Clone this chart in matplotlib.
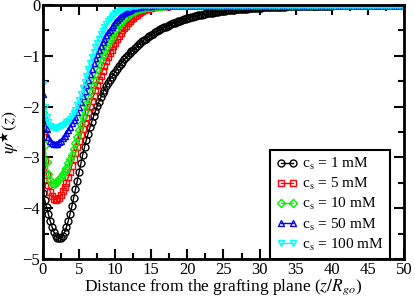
import numpy as np
import matplotlib
matplotlib.use("Agg")
import matplotlib.pyplot as plt
from matplotlib.ticker import MultipleLocator

plt.rcParams['font.family'] = ['Liberation Serif', 'DejaVu Serif']
plt.rcParams['mathtext.fontset'] = 'stix'

# sampling step of the profiles along z / R_go
z_step = 0.25

labels = ["c$_\\mathrm{s}$ = 1 mM", "c$_\\mathrm{s}$ = 5 mM", "c$_\\mathrm{s}$ = 10 mM",
          "c$_\\mathrm{s}$ = 50 mM", "c$_\\mathrm{s}$ = 100 mM"]

psi_1mM = [
    -3.70, -3.84, -3.98, -4.12, -4.25, -4.37, -4.47, -4.54, -4.58, -4.59,
    -4.58, -4.54, -4.47, -4.37, -4.25, -4.11, -3.96, -3.80, -3.63, -3.46,
    -3.29, -3.12, -2.95, -2.80, -2.66, -2.53, -2.41, -2.30, -2.19, -2.09,
    -1.99, -1.90, -1.82, -1.74, -1.67, -1.60, -1.54, -1.48, -1.42, -1.36,
    -1.31, -1.26, -1.21, -1.16, -1.12, -1.07, -1.03, -0.99, -0.95, -0.912,
    -0.876, -0.841, -0.808, -0.776, -0.745, -0.716, -0.687, -0.660, -0.634, -0.609,
    -0.585, -0.562, -0.539, -0.518, -0.497, -0.478, -0.459, -0.441, -0.423, -0.406,
    -0.390, -0.375, -0.360, -0.346, -0.332, -0.319, -0.306, -0.294, -0.283, -0.271,
    -0.261, -0.250, -0.240, -0.231, -0.222, -0.213, -0.205, -0.197, -0.189, -0.181,
    -0.174, -0.167, -0.161, -0.154, -0.148, -0.142, -0.137, -0.131, -0.126, -0.121,
    -0.116, -0.112, -0.107, -0.103, -0.099, -0.095, -0.091, -0.088, -0.084, -0.081,
    -0.078, -0.075, -0.072, -0.069, -0.066, -0.064, -0.061, -0.059, -0.056, -0.054,
    -0.052, -0.050, -0.048, -0.046, -0.044, -0.043, -0.041, -0.039, -0.038, -0.036,
    -0.035, -0.033, -0.032, -0.031, -0.030, -0.028, -0.027, -0.026, -0.025, -0.024,
    -0.023, -0.022, -0.021, -0.020, -0.019, -0.019, -0.018, -0.017, -0.017, -0.016,
    -0.015, -0.015, -0.014, -0.013, -0.013, -0.012, -0.012, -0.011, -0.011, -0.010,
    -0.010, -0.009, -0.009, -0.009, -0.009, -0.008, -0.008, -0.008, -0.008, -0.007,
    -0.007, -0.007, -0.007, -0.006, -0.006, -0.006, -0.006, -0.006, -0.005, -0.005,
    -0.005, -0.005, -0.005, -0.005, -0.004, -0.004, -0.004, -0.004, -0.004, -0.004,
    -0.004, -0.003, -0.003, -0.003, -0.003, -0.003, -0.003, -0.003, -0.003, -0.003,
    -0.002]

psi_5mM = [
    -2.60, -3.05, -3.35, -3.54, -3.68, -3.76, -3.81, -3.83, -3.82, -3.79,
    -3.74, -3.67, -3.59, -3.50, -3.39, -3.28, -3.16, -3.04, -2.92, -2.80,
    -2.68, -2.56, -2.45, -2.33, -2.22, -2.11, -2.00, -1.89, -1.79, -1.68,
    -1.58, -1.48, -1.39, -1.29, -1.20, -1.11, -1.03, -0.95, -0.88, -0.81,
    -0.74, -0.67, -0.61, -0.55, -0.50, -0.45, -0.41, -0.36, -0.32, -0.28,
    -0.25, -0.22, -0.19, -0.16, -0.14, -0.12, -0.10, -0.087, -0.075, -0.065,
    -0.055, -0.047, -0.040, -0.034, -0.029, -0.025, -0.021, -0.018, -0.015, -0.013,
    -0.011, -0.009, -0.008, -0.007, -0.006, -0.005, -0.004, -0.0035, -0.003, -0.0025,
    -0.002, -0.002, -0.0015, -0.0015, -0.001, -0.001, -0.001, -0.001, 0, 0,
    0, 0, 0, 0, 0, 0, 0, 0, 0, 0,
    0, 0, 0, 0, 0, 0, 0, 0, 0, 0,
    0, 0, 0, 0, 0, 0, 0, 0, 0, 0,
    0, 0, 0, 0, 0, 0, 0, 0, 0, 0,
    0, 0, 0, 0, 0, 0, 0, 0, 0, 0,
    0, 0, 0, 0, 0, 0, 0, 0, 0, 0,
    0, 0, 0, 0, 0, 0, 0, 0, 0, 0,
    0, 0, 0, 0, 0, 0, 0, 0, 0, 0,
    0, 0, 0, 0, 0, 0, 0, 0, 0, 0,
    0, 0, 0, 0, 0, 0, 0, 0, 0, 0,
    0, 0, 0, 0, 0, 0, 0, 0, 0, 0,
    0]

psi_10mM = [
    -2.10, -2.75, -3.10, -3.32, -3.45, -3.50, -3.52, -3.51, -3.47, -3.43,
    -3.39, -3.33, -3.27, -3.20, -3.12, -3.04, -2.95, -2.84, -2.72, -2.60,
    -2.47, -2.34, -2.21, -2.08, -1.95, -1.82, -1.70, -1.58, -1.47, -1.36,
    -1.26, -1.16, -1.07, -0.98, -0.90, -0.82, -0.75, -0.68, -0.62, -0.56,
    -0.50, -0.45, -0.40, -0.35, -0.31, -0.27, -0.24, -0.21, -0.18, -0.155,
    -0.135, -0.117, -0.100, -0.086, -0.074, -0.064, -0.055, -0.047, -0.040, -0.035,
    -0.030, -0.025, -0.021, -0.018, -0.015, -0.013, -0.011, -0.009, -0.008, -0.007,
    -0.006, -0.005, -0.004, -0.003, -0.003, -0.002, -0.002, -0.002, -0.001, -0.001,
    0, 0, 0, 0, 0, 0, 0, 0, 0, 0,
    0, 0, 0, 0, 0, 0, 0, 0, 0, 0,
    0, 0, 0, 0, 0, 0, 0, 0, 0, 0,
    0, 0, 0, 0, 0, 0, 0, 0, 0, 0,
    0, 0, 0, 0, 0, 0, 0, 0, 0, 0,
    0, 0, 0, 0, 0, 0, 0, 0, 0, 0,
    0, 0, 0, 0, 0, 0, 0, 0, 0, 0,
    0, 0, 0, 0, 0, 0, 0, 0, 0, 0,
    0, 0, 0, 0, 0, 0, 0, 0, 0, 0,
    0, 0, 0, 0, 0, 0, 0, 0, 0, 0,
    0, 0, 0, 0, 0, 0, 0, 0, 0, 0,
    0, 0, 0, 0, 0, 0, 0, 0, 0, 0,
    0]

psi_50mM = [
    -1.75, -2.20, -2.45, -2.59, -2.68, -2.72, -2.74, -2.74, -2.73, -2.70,
    -2.67, -2.62, -2.57, -2.52, -2.46, -2.40, -2.33, -2.27, -2.20, -2.11,
    -2.01, -1.91, -1.80, -1.69, -1.58, -1.47, -1.36, -1.25, -1.15, -1.05,
    -0.96, -0.88, -0.80, -0.73, -0.66, -0.60, -0.54, -0.49, -0.44, -0.39,
    -0.34, -0.29, -0.25, -0.21, -0.18, -0.15, -0.13, -0.11, -0.09, -0.077,
    -0.065, -0.055, -0.045, -0.037, -0.030, -0.025, -0.020, -0.017, -0.014, -0.012,
    -0.010, -0.008, -0.007, -0.006, -0.005, -0.004, -0.003, -0.003, -0.002, -0.002,
    -0.001, -0.001, 0, 0, 0, 0, 0, 0, 0, 0,
    0, 0, 0, 0, 0, 0, 0, 0, 0, 0,
    0, 0, 0, 0, 0, 0, 0, 0, 0, 0,
    0, 0, 0, 0, 0, 0, 0, 0, 0, 0,
    0, 0, 0, 0, 0, 0, 0, 0, 0, 0,
    0, 0, 0, 0, 0, 0, 0, 0, 0, 0,
    0, 0, 0, 0, 0, 0, 0, 0, 0, 0,
    0, 0, 0, 0, 0, 0, 0, 0, 0, 0,
    0, 0, 0, 0, 0, 0, 0, 0, 0, 0,
    0, 0, 0, 0, 0, 0, 0, 0, 0, 0,
    0, 0, 0, 0, 0, 0, 0, 0, 0, 0,
    0, 0, 0, 0, 0, 0, 0, 0, 0, 0,
    0, 0, 0, 0, 0, 0, 0, 0, 0, 0,
    0]

psi_100mM = [
    -1.55, -2.00, -2.20, -2.31, -2.38, -2.41, -2.42, -2.42, -2.42, -2.41,
    -2.39, -2.37, -2.34, -2.31, -2.28, -2.24, -2.19, -2.13, -2.06, -1.97,
    -1.87, -1.76, -1.64, -1.52, -1.39, -1.26, -1.14, -1.03, -0.92, -0.83,
    -0.74, -0.66, -0.58, -0.51, -0.44, -0.38, -0.32, -0.27, -0.23, -0.19,
    -0.16, -0.13, -0.11, -0.09, -0.07, -0.057, -0.045, -0.037, -0.030, -0.024,
    -0.019, -0.015, -0.012, -0.009, -0.007, -0.005, -0.004, -0.003, -0.002, -0.001,
    0, 0, 0, 0, 0, 0, 0, 0, 0, 0,
    0, 0, 0, 0, 0, 0, 0, 0, 0, 0,
    0, 0, 0, 0, 0, 0, 0, 0, 0, 0,
    0, 0, 0, 0, 0, 0, 0, 0, 0, 0,
    0, 0, 0, 0, 0, 0, 0, 0, 0, 0,
    0, 0, 0, 0, 0, 0, 0, 0, 0, 0,
    0, 0, 0, 0, 0, 0, 0, 0, 0, 0,
    0, 0, 0, 0, 0, 0, 0, 0, 0, 0,
    0, 0, 0, 0, 0, 0, 0, 0, 0, 0,
    0, 0, 0, 0, 0, 0, 0, 0, 0, 0,
    0, 0, 0, 0, 0, 0, 0, 0, 0, 0,
    0, 0, 0, 0, 0, 0, 0, 0, 0, 0,
    0, 0, 0, 0, 0, 0, 0, 0, 0, 0,
    0, 0, 0, 0, 0, 0, 0, 0, 0, 0,
    0]

series = [psi_1mM, psi_5mM, psi_10mM, psi_50mM, psi_100mM]
colors = ['black', 'red', '#00ee00', 'blue', 'cyan']
markers = ['o', 's', 'D', '^', 'v']
msizes = [5, 4.5, 4, 4.5, 4.5]

fig = plt.figure(figsize=(4.15, 3.02), dpi=100)
ax = fig.add_axes([0.1036, 0.1424, 0.8699, 0.8410])

for y, c, m, ms, lab in zip(series, colors, markers, msizes, labels):
    z = z_step * np.arange(len(y))
    ax.plot(z, y, color=c, marker=m, markersize=ms, markerfacecolor='none',
            markeredgecolor=c, markeredgewidth=1.0, linewidth=1.0, label=lab)

ax.set_xlim(0, 50)
ax.set_ylim(-5, 0)
ax.xaxis.set_major_locator(MultipleLocator(5))
ax.xaxis.set_minor_locator(MultipleLocator(2.5))
ax.yaxis.set_major_locator(MultipleLocator(1))
ax.yaxis.set_minor_locator(MultipleLocator(0.5))
ax.tick_params(which='both', direction='in', top=True, right=True, width=1.5,
               labelsize=12, pad=2)
ax.tick_params(which='major', length=7)
ax.tick_params(which='minor', length=4)
for s in ax.spines.values():
    s.set_linewidth(2)

ax.set_xlabel('Distance from the grafting plane ($z/R_{go}$)', fontsize=12.5, labelpad=0)
ax.set_ylabel(r'$\psi^{\bigstar}(z)$', fontsize=13, labelpad=0)

leg = ax.legend(loc='lower right', bbox_to_anchor=(0.961, 0.0), borderaxespad=0,
                fontsize=11, numpoints=2, handlelength=1.4, handletextpad=0.3,
                labelspacing=0.27, fancybox=False, framealpha=1, borderpad=0.4)
leg.get_frame().set_edgecolor('black')
leg.get_frame().set_linewidth(1.5)

fig.savefig('out.png', dpi=100)
